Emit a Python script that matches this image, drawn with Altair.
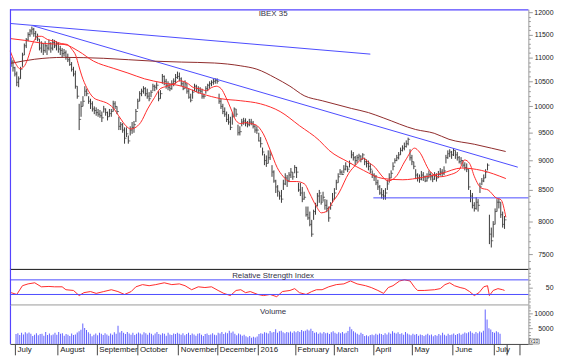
import json
import altair as alt
import pandas as pd

FONT = "Liberation Sans"

# ---------------- daily bars (trading days, Jul 2015 - Jul 2016) ----------------
close_m = [
    [10900,10780,10650,10480,10550,10750,11050,11250,11380,11500,11580,11620,11520,11450,11400,11200,11300,11150,11250,11200,11300,11200,11320],
    [11250,11300,11180,11150,11080,11100,11000,10950,10850,10750,10650,10400,10200,9750,10000,10100,10300,10250,10100,10050,9950],
    [9920,9880,9850,9820,9780,9950,9880,9800,9860,9900,10050,10000,9900,9620,9650,9550,9400,9480,9350,9550,9600,9650],
    [9900,10100,10250,10300,10350,10250,10200,10150,10280,10400,10380,10420,10150,10250,10600,10500,10420,10380,10350,10450,10500,10580],
    [10600,10550,10450,10350,10450,10300,10180,10120,10280,10400,10350,10320,10300,10200,10200,10350,10420,10450,10480,10500,10520],
    [10500,10100,10000,9900,9850,9750,9700,9600,9800,9950,9850,9500,9520,9700,9720,9680,9650,9700,9680,9620,9550,9550],
    [9350,9300,9150,9000,8950,9050,9100,8800,8650,8550,8480,8400,8350,8600,8700,8650,8750,8800,8720,8880],
    [8800,8500,8450,8350,8380,8100,8050,7950,7800,8150,8250,8400,8450,8300,8380,8250,8200,8050,8250,8350,8450],
    [8620,8720,8800,8760,8850,8900,8850,8950,9100,9050,9000,9050,9080,9020,9100,8980,8950,8900,8850,8750,8720],
    [8620,8550,8450,8420,8400,8450,8600,8700,8780,8900,9000,9050,9100,9180,9220,9250,9300,9380,9050,8980,8900],
    [8750,8700,8680,8750,8720,8650,8700,8760,8720,8680,8740,8700,8760,8800,8780,8820,9050,9120,9150,9100,9180,9100],
    [9050,8980,9000,8920,8880,8850,8550,8400,8250,8200,8300,8250,8550,8650,8700,8800,8920,7800,7700,7950,8150,8300],
    [8300,8100,7950,8020],
]
high_m = [
    [11000,10950,10800,10700,10600,10800,11100,11300,11420,11550,11620,11680,11650,11580,11520,11400,11350,11300,11350,11280,11380,11330,11400],
    [11380,11350,11320,11250,11200,11180,11150,11080,11000,10900,10800,10720,10400,10050,10100,10200,10400,10350,10200,10150,10100],
    [10000,9980,9950,9930,9900,10010,9960,9900,9950,9950,10110,10100,10000,9800,9700,9680,9600,9600,9450,9620,9700,9720],
    [9950,10150,10300,10350,10400,10380,10350,10280,10320,10450,10430,10480,10300,10320,10650,10620,10550,10500,10460,10520,10560,10650],
    [10700,10680,10580,10500,10520,10450,10350,10250,10330,10450,10430,10400,10380,10350,10250,10400,10450,10500,10520,10550,10560],
    [10560,10250,10150,10050,9980,9900,9850,9800,9880,9980,9950,9650,9620,9760,9780,9770,9720,9760,9760,9720,9650,9620],
    [9500,9420,9230,9120,9090,9180,9180,8920,8830,8670,8580,8470,8500,8670,8780,8750,8800,8870,8800,8920],
    [8890,8620,8620,8550,8470,8230,8230,8150,8020,8180,8290,8450,8500,8420,8470,8350,8340,8230,8300,8450,8530],
    [8670,8780,8850,8830,8920,8970,8900,9000,9180,9150,9080,9100,9120,9090,9130,9050,9020,9000,8950,8830,8780],
    [8750,8670,8580,8530,8500,8530,8670,8780,8830,8970,9040,9100,9150,9230,9270,9320,9360,9410,9200,9100,8980],
    [8850,8780,8760,8820,8800,8740,8780,8830,8800,8760,8800,8780,8820,8870,8850,8900,9100,9180,9200,9170,9220,9180],
    [9150,9080,9060,9010,8970,8950,8850,8500,8450,8300,8380,8350,8620,8700,8760,8850,8950,8100,7900,8000,8200,8350],
    [8360,8300,8150,8080],
]
low_m = [
    [10800,10700,10600,10400,10380,10550,10800,11050,11200,11350,11450,11500,11450,11380,11350,11150,11100,11050,11100,11050,11150,11100,11150],
    [11200,11150,11100,11050,11000,11020,10950,10900,10820,10700,10600,10350,10150,9550,9800,10000,10200,10200,10050,9950,9900],
    [9850,9820,9800,9780,9700,9880,9820,9730,9800,9800,9900,9950,9850,9550,9550,9500,9300,9420,9300,9450,9480,9500],
    [9700,9950,10100,10200,10250,10200,10150,10100,10180,10300,10300,10330,10100,10150,10450,10420,10350,10320,10300,10330,10400,10450],
    [10550,10500,10400,10320,10350,10250,10150,10080,10150,10300,10280,10250,10250,10150,10150,10250,10300,10350,10400,10430,10450],
    [10450,10050,9950,9850,9800,9700,9650,9550,9650,9800,9800,9450,9450,9620,9650,9620,9600,9620,9640,9580,9500,9480],
    [9340,9230,9090,8920,8890,8950,9010,8720,8620,8450,8390,8340,8290,8500,8580,8550,8630,8700,8670,8780],
    [8700,8470,8400,8300,8340,8070,8020,7920,7760,8020,8100,8230,8290,8260,8310,8180,8140,7990,8180,8290,8340],
    [8500,8620,8750,8750,8780,8830,8800,8880,9040,9000,8920,8960,9000,8970,9020,8920,8880,8830,8780,8700,8650],
    [8580,8500,8420,8360,8340,8340,8500,8620,8700,8830,8950,8990,9020,9100,9160,9180,9230,9270,9000,8920,8850],
    [8680,8640,8620,8660,8650,8630,8640,8700,8660,8630,8670,8640,8700,8740,8720,8750,8950,9030,9060,9030,9080,9030],
    [9000,8950,8930,8880,8830,8800,8500,8300,8200,8150,8180,8150,8450,8580,8630,8700,8830,7650,7600,7750,7950,8150],
    [8200,8050,7900,7880],
]
volume_m = [
    [3200,3500,2900,3600,3100,3800,3400,3700,3300,2600,3000,3500,2800,3200,3300,2700,3900,2900,3400,2800,3100,3600,3000],
    [3900,3300,3500,2700,3200,3000,2600,3400,2900,3100,3700,4100,4600,6600,5200,4500,3800,3300,2500,3000,3400],
    [2800,3600,3300,2900,3500,3100,2700,3400,3000,3800,3300,5900,3700,4200,3600,3200,3900,3400,3000,3600,2900,3300],
    [3700,3400,3100,3800,3500,3000,3600,3300,2800,3400,3900,3200,3000,3500,3300,2700,3600,3100,2900,3400,3200,3600],
    [3300,3000,3500,2800,3200,3600,2900,3400,3100,2700,3300,3500,3000,2600,3200,3400,2900,3100,3500,3000,2800],
    [3600,3400,3900,3200,3700,3500,4300,3600,4000,3300,2800,3400,3100,2700,3000,2500,2200,2600,2000,2300,2100,2400],
    [3200,3500,3300,3800,3600,3400,4200,3700,3900,4800,3600,4100,4300,3800,3500,3900,3700,4000,3600,4100],
    [3800,4200,3900,4500,4100,4300,4700,4400,4900,4200,3600,3800,3300,3700,3400,3900,3500,3600,3200,3800,4100],
    [3600,3300,3800,3500,3900,3400,3600,4200,5600,4800,4100,3700,3300,3000,3600,3200,2600,2800,2500,2900,3100],
    [2800,3300,3000,3400,3200,2900,3500,3100,3700,3300,4100,3600,3400,3800,3200,3500,3000,3900,3400,3100,2800],
    [3300,3000,3200,2700,3100,2900,2600,3000,3300,2800,3100,2500,2900,2700,3200,2800,3600,3000,2700,3300,2900,3100],
    [3400,2900,3200,3500,3000,3300,3700,3500,3800,4100,3600,3300,3900,3500,4000,3700,4300,11200,7900,5100,4700,3900],
    [3600,4100,3800,3300],
]
close = sum(close_m, [])
high = sum(high_m, [])
low = sum(low_m, [])
volume = sum(volume_m, [])

# month labels on the time axis (first trading-day index of each month)
month_names = ["July", "August", "September", "October", "November", "December", "2016",
               "February", "March", "April", "May", "June", "July"]
month_start = [0, 23, 44, 66, 88, 109, 131, 151, 172, 193, 214, 236, 258]

# moving averages (trading-day index, level)
fast_idx = [-0.5, 2, 4.7, 6.7, 8.8, 10.9, 12.5, 14, 16, 19.2, 22.8, 26.5, 29.6, 32.2, 34.3, 35.8, 37.4, 40, 43.6, 47.2,
            50.4, 54, 57.6, 60.7, 63.3, 65.4, 68.5, 72.2, 75.8, 78.9, 82.6, 86.2, 89.3, 92.9, 96.6, 99.7, 103.3, 105.9,
            108.5, 111.1, 113.7, 116.3, 118.9, 121.5, 124.1, 126.7, 129.3, 133.4, 137.1, 140.7, 143.8, 147.5, 151.1,
            155.2, 157.8, 161.5, 164.1, 166.7, 169.8, 173.4, 178.6, 182.2, 186.4, 189, 192.6, 195.7, 199.4, 203.5,
            208.7, 213.4, 216, 221.2, 226.4, 231.6, 236.8, 239.9, 242.5, 245.1, 248.7, 252.3, 256.5, 259.1, 261.7]
fast_val = [11140, 10900, 10760, 10800, 10970, 11240, 11390, 11460, 11460, 11390, 11350, 11300, 11280, 11170, 11030,
            10820, 10610, 10370, 10170, 10110, 10070, 9970, 9780, 9630, 9570, 9590, 9690, 9950, 10170, 10350, 10400,
            10450, 10510, 10470, 10370, 10350, 10310, 10370, 10400, 10350, 10170, 9950, 9730, 9670, 9690, 9670, 9650,
            9480, 9180, 8880, 8730, 8640, 8640, 8600, 8450, 8230, 8130, 8150, 8290, 8450, 8780, 8920, 9040, 8970, 8880,
            8750, 8650, 8720, 9010, 9220, 9150, 8830, 8720, 8750, 8830, 9010, 8950, 8720, 8530, 8500, 8370, 8340, 8060]
slow_idx = [-0.5, 7.3, 17.7, 28, 35.8, 43.6, 54, 61.8, 70.6, 80, 90.3, 100.7, 111.1, 121.5, 131.9, 142.3, 152.6, 163,
            168.2, 178.6, 186.4, 196.8, 207.2, 217.5, 227.9, 238.3, 248.7, 261.7]
slow_val = [11410, 11370, 11300, 11280, 11130, 10920, 10770, 10670, 10550, 10470, 10400, 10250, 10150, 10110, 10050,
            9900, 9630, 9360, 9180, 8970, 8830, 8690, 8670, 8710, 8780, 8870, 8830, 8690]
long_idx = [-0.5, 12.5, 28, 49, 75, 90, 107.5, 121.5, 130, 139.7, 147.5, 155, 164.6, 180, 189, 196.8, 214, 223.8,
            231.6, 245, 254, 261.6]
long_val = [10870, 10960, 11000, 10980, 10920, 10900, 10880, 10820, 10750, 10570, 10400, 10210, 10110, 9960, 9880,
            9780, 9560, 9490, 9380, 9290, 9220, 9160]

# trend lines (start index, end index, start level, end level)
trend_x1 = [-0.5, 11.4, 191.6]
trend_x2 = [190, 268, 273.6]
trend_y1 = [11750, 11700, 8370]
trend_y2 = [11070, 8885, 8370]

# RSI
rsi_idx = [0, 3, 6, 9, 12.5, 16, 20, 23, 27, 29, 33, 36, 38.5, 42, 45, 49, 53, 56.5, 60, 63.5, 66, 69.5, 73, 76.5, 81,
           85, 89, 92, 95.5, 99, 102.5, 106, 109.5, 112.5, 116, 119, 121.5, 124, 126.5, 130.5, 133.5, 137, 140.5,
           143.5, 147.5, 150, 152.5, 156, 159, 161.5, 164.5, 168, 172, 176, 179.5, 183, 187.5, 190.5, 194, 197,
           199.5, 202, 205.5, 208, 211, 213.5, 215, 218.5, 224, 227, 229.5, 232, 234.5, 237.5, 240, 242.5, 245,
           247.5, 250, 252, 253, 255, 257.5, 260, 261]
rsi_val = [35, 30, 54, 59, 62, 51, 52, 51, 51, 43, 41, 27, 35, 38, 33, 38, 43, 38, 30, 38, 51, 57, 54, 57, 62, 57, 59,
           54, 43, 51, 49, 51, 41, 33, 27, 41, 43, 35, 38, 30, 27, 30, 24, 38, 41, 46, 35, 30, 38, 43, 43, 51, 57, 59,
           67, 59, 54, 49, 41, 33, 49, 54, 67, 70, 67, 49, 41, 41, 43, 46, 57, 62, 54, 49, 46, 38, 27, 35, 51, 54, 27,
           41, 46, 43, 41]
rsi_levels = [30, 70]

# ---------------- chart ----------------
bars = pd.DataFrame({"i": list(range(len(close))), "low": low, "high": high,
                     "close": close, "volume": volume})

W = 525
H_MAIN, H_RSI, H_VOL = 263, 37, 39
FRAME = "#5544ff"
TREND = "#4a4aff"
RED = "#ff2a2a"
BROWN = "#8e2a2a"
BAR = "#3a3a3a"
one = pd.DataFrame({"k": [0]})

xscale = alt.Scale(domain=[-0.6, 273.6], nice=False, zero=False)


def X(field="i", axis=None):
    return alt.X(f"{field}:Q", scale=xscale, axis=axis)


def right_axis(values, major_test, labels_test):
    return alt.Axis(orient="right", values=values, format="d",
                    labelExpr=f"({labels_test}) ? format(datum.value, 'd') : ''",
                    tickSize={"condition": {"test": major_test, "value": 4}, "value": 2},
                    labelAlign="right", labelPadding=21, labelFontSize=7, labelFont=FONT,
                    labelColor="#222", labelOverlap=False, labelBaseline="middle", labelFlush=False,
                    domainColor="#999", tickColor="#999", title=None, grid=False)


price_scale = alt.Scale(type="log", domain=[7290, 12080], nice=False)
price_axis = right_axis(list(range(7300, 12001, 100)), "datum.value % 500 === 0", "datum.value % 500 === 0")


def PY(field):
    return alt.Y(f"{field}:Q", scale=price_scale, axis=price_axis)


def frame_left(h):
    return alt.Chart(one).mark_rule(color=FRAME, strokeWidth=1.2).encode(
        x=alt.value(0.5), y=alt.value(0), y2=alt.value(h))


def ma(idx, val, color, w=1.0):
    return alt.Chart(pd.DataFrame({"i": idx, "v": val})).mark_line(
        color=color, strokeWidth=w, interpolate="monotone").encode(x=X(), y=PY("v"))


def label(txt, y):
    return alt.Chart(pd.DataFrame({"t": [txt]})).mark_text(
        font=FONT, fontSize=8, color="#333348", baseline="middle").encode(
        text="t:N", x=alt.value(W / 2 + 4), y=alt.value(y))


hl = alt.Chart(bars).mark_rule(color=BAR, strokeWidth=1).encode(x=X(), y=PY("low"), y2="high:Q")
ct = alt.Chart(bars).mark_tick(color=BAR, orient="horizontal", size=2, thickness=1, xOffset=1).encode(
    x=X(), y=PY("close"))
main_top = alt.Chart(one).mark_rule(color=FRAME, strokeWidth=1.2).encode(
    x=alt.value(0), x2=alt.value(W), y=alt.value(0.6))
trend = alt.Chart(pd.DataFrame({"x1": trend_x1, "x2": trend_x2, "y1": trend_y1, "y2": trend_y2})).mark_rule(
    color=TREND, strokeWidth=1).encode(x=X("x1"), x2="x2:Q", y=PY("y1"), y2="y2:Q")

main = alt.layer(
    hl, ct, trend,
    ma(long_idx, long_val, BROWN), ma(slow_idx, slow_val, RED), ma(fast_idx, fast_val, RED),
    main_top, frame_left(H_MAIN), label("IBEX 35", 5)
).properties(width=W, height=H_MAIN)

# RSI panel
rsi_scale = alt.Scale(domain=[0, 100], nice=False)
rsi_axis = right_axis(list(range(0, 101, 10)), "datum.value === 50", "datum.value === 50")
rsi_line = alt.Chart(pd.DataFrame({"i": rsi_idx, "r": rsi_val})).mark_line(color=RED, strokeWidth=1).encode(
    x=X(), y=alt.Y("r:Q", scale=rsi_scale, axis=rsi_axis))
rsi_lv = alt.Chart(pd.DataFrame({"lv": rsi_levels})).mark_rule(color=TREND, strokeWidth=1).encode(
    y=alt.Y("lv:Q", scale=rsi_scale, axis=rsi_axis))
rsi_top = alt.Chart(one).mark_rule(color="#111", strokeWidth=1).encode(
    x=alt.value(0), x2=alt.value(W), y=alt.value(0.5))
rsi_bottom = alt.Chart(one).mark_rule(color="#999", strokeWidth=1).encode(
    x=alt.value(0), x2=alt.value(W), y=alt.value(H_RSI - 0.5))
rsi = alt.layer(rsi_line, rsi_lv, rsi_top, rsi_bottom, frame_left(H_RSI),
                label("Relative Strength Index", 7)).properties(width=W, height=H_RSI)

# Volume panel
tick_vals = [s - 0.5 for s in month_start] + [264.5, 271.5]
tick_text = month_names + ["", ""]
x_axis = alt.Axis(values=tick_vals,
                  labelExpr=f"{json.dumps(tick_text)}[indexof({json.dumps(tick_vals)}, datum.value)]",
                  tickSize=11, labelAlign="left", labelBaseline="top", labelPadding=-9, labelOffset=2,
                  labelFont=FONT, labelFontSize=8, labelColor="#222", labelOverlap=False, labelFlush=False,
                  domainColor="#444", tickColor="#444", title=None, grid=False)
vol_scale = alt.Scale(domain=[0, 12500], nice=False)
vol_axis = right_axis(list(range(0, 12001, 1000)), "datum.value % 5000 === 0",
                      "datum.value === 5000 || datum.value === 10000")
vbars = alt.Chart(bars).mark_bar(color="#6262ff", width=1).encode(
    x=X(axis=x_axis), y=alt.Y("volume:Q", scale=vol_scale, axis=vol_axis))
mult_box = alt.Chart(one).mark_rect(fill="white", stroke="#555", strokeWidth=0.6).encode(
    x=alt.value(W + 1), x2=alt.value(W + 11), y=alt.value(H_VOL - 5), y2=alt.value(H_VOL))
mult_txt = alt.Chart(pd.DataFrame({"t": ["x10"]})).mark_text(
    font=FONT, fontSize=5, color="#222", baseline="middle").encode(
    text="t:N", x=alt.value(W + 6), y=alt.value(H_VOL - 2.5))
vol = alt.layer(vbars, frame_left(H_VOL), label("Volume", 7), mult_box, mult_txt).properties(width=W, height=H_VOL)

chart = alt.vconcat(main, rsi, vol, spacing=0, bounds="flush").properties(
    padding={"left": 0, "top": -2, "right": 4, "bottom": 0}
).configure_view(stroke=None)

chart.save("out.html", embed_options={"renderer": "svg", "actions": False})
